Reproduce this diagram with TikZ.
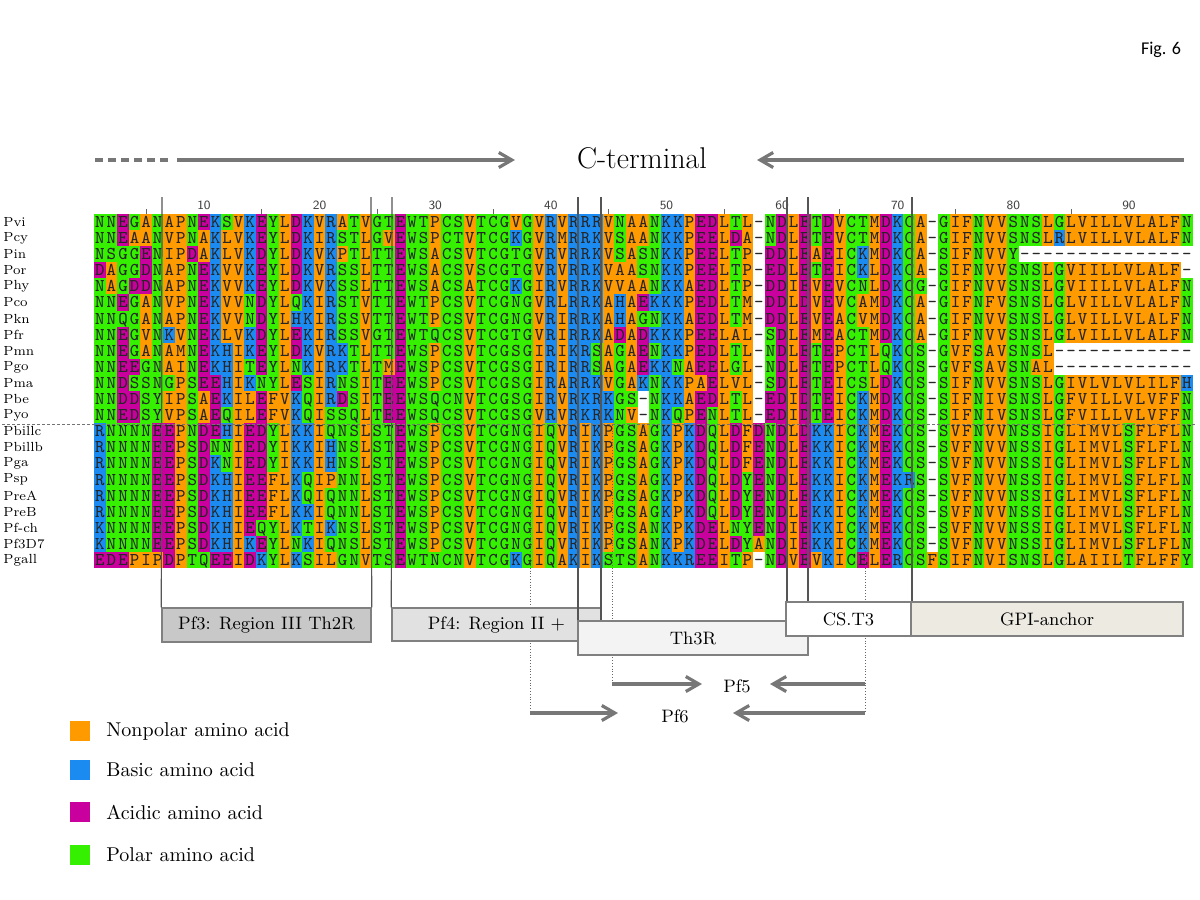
\documentclass[tikz,border=0pt]{standalone}
\usepackage{fontspec}
\newfontfamily\figfont{Carlito}
\usetikzlibrary{arrows.meta}

\definecolor{npol}{HTML}{FF9A00}
\definecolor{bas}{HTML}{1B8BF2}
\definecolor{acid}{HTML}{C9009E}
\definecolor{pol}{HTML}{35F000}
\definecolor{guide}{HTML}{555555}
\definecolor{arrgray}{HTML}{777777}
\definecolor{boxedge}{HTML}{808080}
\definecolor{pfthree}{HTML}{C8C8C8}
\definecolor{pffour}{HTML}{E1E1E1}
\definecolor{ththree}{HTML}{F3F3F3}
\definecolor{gpifill}{HTML}{EDEAE1}

% residue classes
\colorlet{resA}{npol}\colorlet{resV}{npol}\colorlet{resL}{npol}\colorlet{resI}{npol}
\colorlet{resP}{npol}\colorlet{resF}{npol}\colorlet{resM}{npol}
\colorlet{resK}{bas}\colorlet{resR}{bas}\colorlet{resH}{bas}
\colorlet{resD}{acid}\colorlet{resE}{acid}
\colorlet{resN}{pol}\colorlet{resQ}{pol}\colorlet{resS}{pol}\colorlet{resT}{pol}
\colorlet{resG}{pol}\colorlet{resC}{pol}\colorlet{resY}{pol}\colorlet{resW}{pol}

% one alignment row, one cell per residue
\newcounter{rescol}
\newcommand\drawres[1]{%
  \pgfmathsetmacro\cx{94.1+(\the\value{rescol}-0.5)*11.5625}%
  \edef\resname{r\rowno c\the\value{rescol}}%
  \if#1-\else\fill[res#1] (\cx-5.85,\rowy-8.1) rectangle (\cx+5.85,\rowy+8.1);\fi
  \node[resid] (\resname) at (\cx,\rowy+5.4) {#1};}
\def\seqnext#1{\ifx#1\relax\else\stepcounter{rescol}\drawres{#1}\expandafter\seqnext\fi}
\newcommand\alignrow[3]{%
  \pgfmathsetmacro\rowy{222+(#1-1)*16.1}\def\rowno{#1}%
  \node[rowname] (name#1) at (3,\rowy) {#2};
  \setcounter{rescol}{0}\seqnext#3\relax}

\begin{document}
\begin{tikzpicture}[x=0.5pt,y=-0.5pt,
    resid/.style={anchor=base,inner sep=0pt,text=black!85,font=\ttfamily\fontsize{9}{9}\selectfont},
    rowname/.style={anchor=west,inner sep=0pt,font=\fontsize{6.6}{7}\selectfont},
    rulenum/.style={inner sep=0pt,text=black!75,font=\sffamily\fontsize{6.3}{6.3}\selectfont},
    regbox/.style={draw=boxedge,line width=0.7pt,inner sep=0pt,minimum height=17pt,font=\fontsize{9}{9}\selectfont},
    guideline/.style={guide,line width=0.6pt},
    dotline/.style={black!60,line width=0.4pt,dash pattern=on 0.5pt off 0.9pt},
    bigarrow/.style={arrgray,line width=1.6pt,-{Straight Barb[length=6.5pt,width=7.5pt]}},
    legsq/.style={minimum size=10pt,inner sep=0pt},
    legtext/.style={anchor=west,inner sep=0pt,font=\fontsize{10}{10}\selectfont}]
  \useasboundingbox (0,0) rectangle (1200,900);

  \node[inner sep=0pt,font=\figfont\fontsize{9}{10}\selectfont] (fig) at (1161,50) {Fig. 6};

  % C-terminal arrows
  \coordinate (ct0) at (95,160);
  \coordinate (ct1) at (171,160);
  \coordinate (ct2) at (177,160);
  \coordinate (ct3) at (515,160);
  \coordinate (ct4) at (1184,160);
  \coordinate (ct5) at (757,160);
  \node[inner sep=0pt,font=\fontsize{15}{15}\selectfont] (cterm) at (642,158) {C-terminal};
  \draw[arrgray,line width=1.6pt,dash pattern=on 4pt off 2.5pt] (ct0) -- (ct1);
  \draw[bigarrow] (ct2) -- (ct3);
  \draw[bigarrow] (ct4) -- (ct5);

  % ruler
  \foreach \n in {10,20,...,90}
    \node[rulenum] (num\n) at ({94.1+(\n-0.5)*11.5625},205) {\n};
  \foreach \n in {5,15,...,85}
    \draw[black!60,line width=0.5pt] ({94.1+(\n-0.5)*11.5625},209) -- ++(0,5);

  % alignment
  \alignrow{1}{Pvi}{NNEGANAPNEKSVKEYLDKVRATVGTEWTPCSVTCGVGVRVRRRVNAANKKPEDLTL-NDLETDVCTMDKCA-GIFNVVSNSLGLVILLVLALFN}
  \alignrow{2}{Pcy}{NNEAANVPNAKLVKEYLDKIRSTLGVEWSPCTVTCGKGVRMRRKVSAANKKPEELDA-NDLETEVCTMDKCA-GIFNVVSNSLRLVILLVLALFN}
  \alignrow{3}{Pin}{NSGGENIPDAKLVKDYLDKVKPTLTTEWSACSVTCGTGVRVRRKVSASNKKPEELTP-DDLEAEICKMDKCA-SIFNVVY---------------}
  \alignrow{4}{Por}{DAGGDNAPNEKVVKEYLDKVRSSLTTEWSACSVSCGTGVRVRRKVAASNKKPEELTP-EDLETEICKLDKCA-SIFNVVSNSLGVIILLVLALF-}
  \alignrow{5}{Phy}{NAGDDNAPNEKVVKEYLDKVKSSLTTEWSACSATCGKGIRVRRKVVAANKKAEDLTP-DDIEVEVCNLDKCG-GIFNVVSNSLGVIILLVLALFN}
  \alignrow{6}{Pco}{NNEGANVPNEKVVNDYLQKIRSTVTTEWTPCSVTCGNGVRLRRKAHAEKKKPEDLTM-DDLDVEVCAMDKCA-GIFNFVSNSLGLVILLVLALFN}
  \alignrow{7}{Pkn}{NNQGANAPNEKVVNDYLHKIRSSVTTEWTPCSVTCGNGVRIRRKAHAGNKKAEDLTM-DDLEVEACVMDKCA-GIFNVVSNSLGLVILLVLALFN}
  \alignrow{8}{Pfr}{NNEGVNKVNEKLVKDYLEKIRSSVGTEWTQCSVTCGTGVRIRRKADADKKKPEELAL-SDLEMEACTMDKCA-GIFNVVSNSLGLVILLVLALFN}
  \alignrow{9}{Pmn}{NNEGANAMNEKHIKEYLDKVRKTLTTEWSPCSVTCGSGIRIKRSAGAENKKPEDLTL-NDLETEPCTLQKCS-GVFSAVSNSL------------}
  \alignrow{10}{Pgo}{NNEEGNAINEKHITEYLNKIRKTLTMEWSPCSVTCGSGIRIRRSAGAEKKNAEELGL-NDLETEPCTLQKCS-GVFSAVSNAL------------}
  \alignrow{11}{Pma}{NNDSSNGPSEEHIKNYLESIRNSITEEWSPCSVTCGSGIRARRKVGAKNKKPAELVL-SDLETEICSLDKCS-SIFNVVSNSLGIVLVLVLILFH}
  \alignrow{12}{Pbe}{NNDDSYIPSAEKILEFVKQIRDSITEEWSQCNVTCGSGIRVRKRKGS-NKKAEDLTL-EDIDTEICKMDKCS-SIFNIVSNSLGFVILLVLVFFN}
  \alignrow{13}{Pyo}{NNEDSYVPSAEQILEFVKQISSQLTEEWSQCSVTCGSGVRVRKRKNV-NKQPENLTL-EDIDTEICKMDKCS-SIFNIVSNSLGFVILLVLVFFN}
  \alignrow{14}{Pbillc}{RNNNNEEPNDEHIEDYLKKIQNSLSTEWSPCSVTCGNGIQVRIKPGSAGKPKDQLDFDNDLDKKICKMEKCS-SVFNVVNSSIGLIMVLSFLFLN}
  \alignrow{15}{Pbillb}{RNNNNEEPSDNNIEDYIKKIHNSLSTEWSPCSVTCGNGIQVRIKPGSAGKPKDQLDFENDLEKKICKMEKCS-SVFNVVNSSIGLIMVLSFLFLN}
  \alignrow{16}{Pga}{RNNNNEEPSDKNIEDYIKKIHNSLSTEWSPCSVTCGNGIQVRIKPGSAGKPKDQLDFENDLEKKICKMEKCS-SVFNVVNSSIGLIMVLSFLFLN}
  \alignrow{17}{Psp}{RNNNNEEPSDKHIEEFLKQIPNNLSTEWSPCSVTCGNGIQVRIKPGSAGKPKDQLDYENDLEKKICKMEKRS-SVFNVVNSSIGLIMVLSFLFLN}
  \alignrow{18}{PreA}{RNNNNEEPSDKHIEEFLKQIQNNLSTEWSPCSVTCGNGIQVRIKPGSAGKPKDQLDYENDLEKKICKMEKCS-SVFNVVNSSIGLIMVLSFLFLN}
  \alignrow{19}{PreB}{RNNNNEEPSDKHIEEFLKKIQNNLSTEWSPCSVTCGNGIQVRIKPGSAGKPKDQLDYENDLEKKICKMEKCS-SVFNVVNSSIGLIMVLSFLFLN}
  \alignrow{20}{Pf-ch}{KNNNNEEPSDKHIEQYLKTIKNSLSTEWSPCSVTCGNGIQVRIKPGSANKPKDELNYENDIEKKICKMEKCS-SVFNVVNSSIGLIMVLSFLFLN}
  \alignrow{21}{Pf3D7}{KNNNNEEPSDKHIKEYLNKIQNSLSTEWSPCSVTCGNGIQVRIKPGSANKPKDELDYANDIEKKICKMEKCS-SVFNVVNSSIGLIMVLSFLFLN}
  \alignrow{22}{Pgall}{EDEPIPDPTQEEIDKYLKSILGNVTSEWTNCNVTCGKGIQAKIKSTSANKKREEITP-NDVEVKICELERCSFSIFNVISNSLGLAIILTFLFFY}

  % separator between the two groups
  \coordinate (sep0) at (2,424);
  \coordinate (sep1) at (1197,424);
  \draw[black!55,line width=0.4pt,dash pattern=on 1.5pt off 1pt] (sep0) -- (sep1);

  % dotted guides for Pf5 / Pf6
  \coordinate (dta) at (530,425);
  \coordinate (dtb) at (612,425);
  \coordinate (dtc) at (865,425);
  \coordinate (pfsixa) at (530,713);
  \coordinate (pffivea) at (612,684);
  \coordinate (pffiveb) at (865,684);
  \coordinate (pfsixb) at (865,713);
  \draw[dotline] (dta) -- (pfsixa);
  \draw[dotline] (dtb) -- (pffivea);
  \draw[dotline] (dtc) -- (pfsixb);

  % region boxes
  \node[regbox,fill=pfthree,minimum width=104.5pt] (pf3) at (266.5,625) {Pf3: Region III Th2R};
  \node[regbox,fill=pffour,minimum width=104.5pt,minimum height=16.5pt] (pf4) at (496.5,624.5) {Pf4: Region II +};
  \node[regbox,fill=ththree,minimum width=115pt] (th3r) at (693,638) {Th3R};
  \node[regbox,fill=white,minimum width=62.5pt] (cst3) at (848.5,619) {CS.T3};
  \node[regbox,fill=gpifill,minimum width=136pt] (gpi) at (1047,619) {GPI-anchor};

  % guide lines from the ruler down to the boxes
  \foreach \gx/\gn in {162/a,371/b,392/c,578/d,601/e,787/f,808/g,912/h}
    \coordinate (top\gn) at (\gx,197);
  \draw[guideline] (topa) -- (pf3.north west);
  \draw[guideline] (topb) -- (pf3.north east);
  \draw[guideline] (topc) -- (pf4.north west);
  \draw[guideline] (topd) -- (topd |- th3r.north);
  \draw[guideline] (tope) -- (tope |- th3r.north);
  \draw[guideline] (topf) -- (topf |- cst3.north);
  \draw[guideline] (topg) -- (topg |- cst3.north);
  \draw[guideline] (toph) -- (toph |- gpi.north);

  % Pf5 and Pf6
  \node[inner sep=0pt,font=\fontsize{9}{9}\selectfont] (pf5) at (737,686) {Pf5};
  \node[inner sep=0pt,font=\fontsize{9}{9}\selectfont] (pf6) at (675,716) {Pf6};
  \coordinate (pffivec) at (702,684);
  \coordinate (pffived) at (770,684);
  \coordinate (pfsixc) at (618,713);
  \coordinate (pfsixd) at (733,713);
  \draw[bigarrow] (pffivea) -- (pffivec);
  \draw[bigarrow] (pffiveb) -- (pffived);
  \draw[bigarrow] (pfsixa) -- (pfsixc);
  \draw[bigarrow] (pfsixb) -- (pfsixd);

  % legend
  \node[legsq,fill=npol] (lg1) at (80,731) {};
  \node[legsq,fill=bas] (lg2) at (80,770) {};
  \node[legsq,fill=acid] (lg3) at (80,812) {};
  \node[legsq,fill=pol] (lg4) at (80,855) {};
  \node[legtext] (lt1) at (106,731) {Nonpolar amino acid};
  \node[legtext] (lt2) at (106,770) {Basic amino acid};
  \node[legtext] (lt3) at (106,812) {Acidic amino acid};
  \node[legtext] (lt4) at (106,855) {Polar amino acid};
\end{tikzpicture}
\end{document}
